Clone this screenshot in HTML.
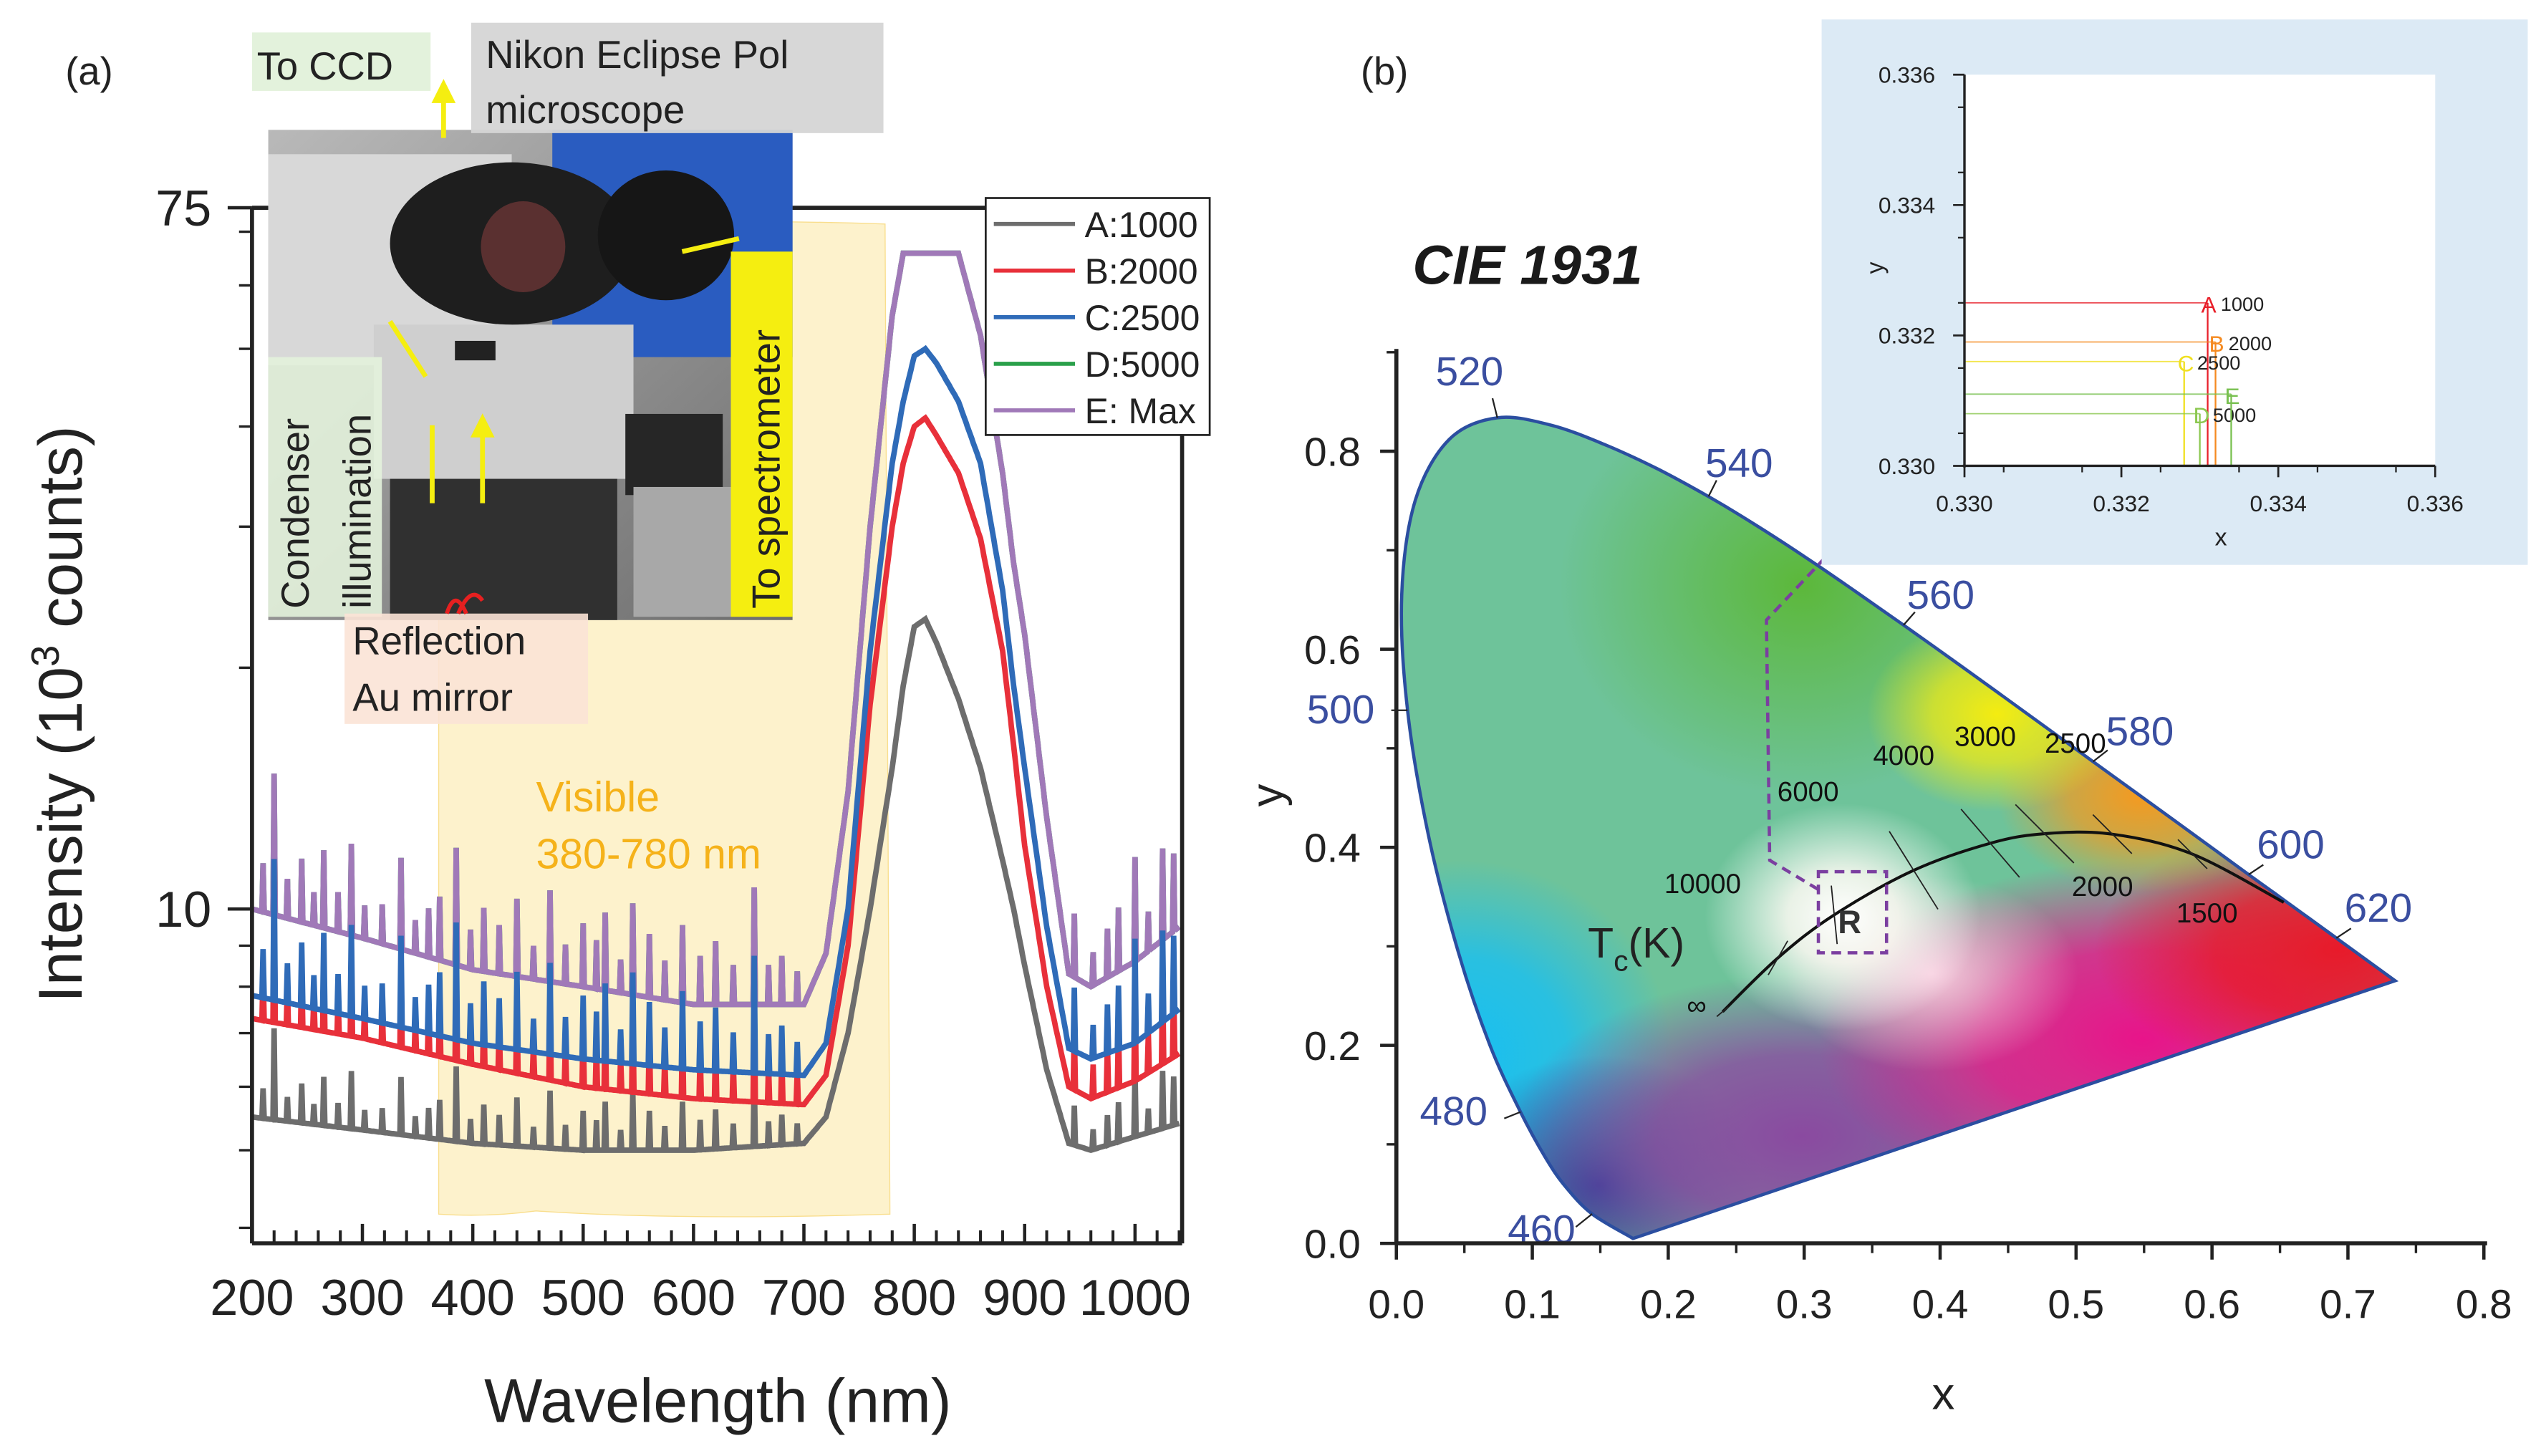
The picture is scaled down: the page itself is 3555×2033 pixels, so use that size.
<!DOCTYPE html>
<html><head><meta charset="utf-8"><style>
html,body{margin:0;padding:0;background:#fff;}
svg{display:block;font-family:"Liberation Sans",sans-serif;}
</style></head><body>
<svg id="fig" width="3555" height="2033" viewBox="0 0 1568 897" xmlns="http://www.w3.org/2000/svg">
<defs>
  <clipPath id="locusClip"><path id="locusClipPath" d=""/></clipPath>
  <radialGradient id="gBlue" cx="0.5" cy="0.5" r="0.5"><stop offset="0" stop-color="#18bff2" stop-opacity="1"/><stop offset="0.5" stop-color="#18bff2" stop-opacity="0.8"/><stop offset="1" stop-color="#18bff2" stop-opacity="0"/></radialGradient>
  <radialGradient id="gDeep" cx="0.5" cy="0.5" r="0.5"><stop offset="0" stop-color="#2c3f98" stop-opacity="1"/><stop offset="1" stop-color="#2c3f98" stop-opacity="0"/></radialGradient>
  <radialGradient id="gRed" cx="0.5" cy="0.5" r="0.5"><stop offset="0" stop-color="#e81a2a" stop-opacity="1"/><stop offset="0.5" stop-color="#e81a2a" stop-opacity="0.8"/><stop offset="1" stop-color="#e81a2a" stop-opacity="0"/></radialGradient>
  <radialGradient id="gMag" cx="0.5" cy="0.5" r="0.5"><stop offset="0" stop-color="#e8148a" stop-opacity="1"/><stop offset="0.5" stop-color="#e8148a" stop-opacity="0.8"/><stop offset="1" stop-color="#e8148a" stop-opacity="0"/></radialGradient>
  <radialGradient id="gPur" cx="0.5" cy="0.5" r="0.5"><stop offset="0" stop-color="#8a4aa0" stop-opacity="1"/><stop offset="0.5" stop-color="#8a4aa0" stop-opacity="0.8"/><stop offset="1" stop-color="#8a4aa0" stop-opacity="0"/></radialGradient>
  <radialGradient id="gYel" cx="0.5" cy="0.5" r="0.5"><stop offset="0" stop-color="#f4ec10" stop-opacity="1"/><stop offset="0.5" stop-color="#f4ec10" stop-opacity="0.7"/><stop offset="1" stop-color="#f4ec10" stop-opacity="0"/></radialGradient>
  <radialGradient id="gOra" cx="0.5" cy="0.5" r="0.5"><stop offset="0" stop-color="#f59a20" stop-opacity="1"/><stop offset="0.5" stop-color="#f59a20" stop-opacity="0.7"/><stop offset="1" stop-color="#f59a20" stop-opacity="0"/></radialGradient>
  <radialGradient id="gGreen" cx="0.5" cy="0.5" r="0.5"><stop offset="0" stop-color="#5cb83a" stop-opacity="1"/><stop offset="1" stop-color="#5cb83a" stop-opacity="0"/></radialGradient>
  <radialGradient id="gPink" cx="0.5" cy="0.5" r="0.5"><stop offset="0" stop-color="#f7c9dc" stop-opacity="1"/><stop offset="1" stop-color="#f7c9dc" stop-opacity="0"/></radialGradient>
  <radialGradient id="gWhite" cx="0.5" cy="0.5" r="0.5"><stop offset="0" stop-color="#ffffff" stop-opacity="1"/><stop offset="0.4" stop-color="#fffaf4" stop-opacity="0.85"/><stop offset="1" stop-color="#ffffff" stop-opacity="0"/></radialGradient>
  <linearGradient id="photoBg" x1="0" y1="0" x2="1" y2="1"><stop offset="0" stop-color="#b9b9b9"/><stop offset="1" stop-color="#6d6d6d"/></linearGradient>
</defs>

<g id="panelA">
  <text x="40" y="52" font-size="24" fill="#222">(a)</text>
  <path d="M270,140 Q300,136 330,140 Q420,134 545,138 L548,748 Q420,752 330,746 Q300,750 270,748 Z" fill="#fdf0c4" opacity="0.85" stroke="#f8d97a" stroke-width="0.6"/>
  <g id="seriesA"></g>
  <g id="axesA"></g>
  <text x="330" y="500" font-size="26" fill="#f5b21a">Visible</text>
  <text x="330" y="535" font-size="26" fill="#f5b21a">380-780 nm</text>
  <g>
    <rect x="165" y="80" width="323" height="302" fill="url(#photoBg)"/>
    <rect x="340" y="80" width="148" height="140" fill="#2a5cc0"/>
    <rect x="165" y="95" width="150" height="130" fill="#d8d8d8"/>
    <rect x="230" y="200" width="160" height="95" fill="#cfcfcf"/>
    <ellipse cx="315" cy="150" rx="75" ry="50" fill="#1e1e1e"/>
    <ellipse cx="322" cy="152" rx="26" ry="28" fill="#5a3030"/>
    <ellipse cx="410" cy="145" rx="42" ry="40" fill="#161616"/>
    <rect x="240" y="295" width="140" height="87" fill="#303030"/>
    <rect x="385" y="255" width="60" height="50" fill="#262626"/>
    <rect x="390" y="300" width="60" height="80" fill="#a8a8a8"/>
    <rect x="280" y="210" width="25" height="12" fill="#222"/>
  </g>
  <rect x="155" y="20" width="110" height="36" fill="#e3f2dc"/>
  <text x="158" y="49" font-size="24" fill="#222">To CCD</text>
  <rect x="290" y="14" width="254" height="68" fill="#d5d5d5" opacity="0.95"/>
  <text x="299" y="42" font-size="24" fill="#222">Nikon Eclipse Pol</text>
  <text x="299" y="76" font-size="24" fill="#222">microscope</text>
  <rect x="165" y="220" width="70" height="160" fill="#e3f2dc" opacity="0.9"/>
  <text transform="translate(190,375) rotate(-90)" font-size="24" fill="#222">Condenser</text>
  <text transform="translate(228,375) rotate(-90)" font-size="24" fill="#222">illumination</text>
  <rect x="450" y="155" width="38" height="225" fill="#f5ee10"/>
  <text transform="translate(480,375) rotate(-90)" font-size="24" fill="#222">To spectrometer</text>
  <rect x="212" y="378" width="150" height="68" fill="#fbe3d6" opacity="0.9"/>
  <text x="217" y="403" font-size="24" fill="#222">Reflection</text>
  <text x="217" y="438" font-size="24" fill="#222">Au mirror</text>
  <g stroke="#f5ee10" stroke-width="3" fill="#f5ee10">
    <line x1="273" y1="85" x2="273" y2="60"/><path d="M268,62 L273,52 L278,62 Z"/>
    <line x1="240" y1="198" x2="262" y2="232"/>
    <line x1="266" y1="262" x2="266" y2="310"/>
    <line x1="297" y1="310" x2="297" y2="265"/><path d="M292,268 L297,258 L302,268 Z"/>
    <line x1="420" y1="155" x2="455" y2="147"/>
  </g>
  <path d="M275,378 Q280,362 287,378 M282,378 Q290,360 297,370" stroke="#e62020" stroke-width="2.5" fill="none"/>
  <g>
    <rect x="607" y="122" width="138" height="146" fill="#fff" stroke="#222" stroke-width="1.2"/>
    <g id="legendItems"></g>
  </g>
  <text transform="translate(50,440) rotate(-90)" text-anchor="middle" font-size="38" fill="#222">Intensity (10<tspan dy="-14" font-size="24">3</tspan><tspan dy="14"> counts)</tspan></text>
  <text x="442" y="876" text-anchor="middle" font-size="38" fill="#222">Wavelength (nm)</text>
</g>

<g id="panelB">
  <text x="838" y="52" font-size="24" fill="#222">(b)</text>
  <text x="870" y="175" font-size="34" font-weight="bold" font-style="italic" fill="#1a1a1a">CIE 1931</text>
  <g clip-path="url(#locusClip)">
    <rect x="840" y="230" width="720" height="560" fill="#6ec39a"/>
    <ellipse cx="1110" cy="360" rx="150" ry="130" fill="url(#gGreen)"/>
    <ellipse cx="900" cy="650" rx="130" ry="120" fill="url(#gBlue)"/>
    <ellipse cx="985" cy="730" rx="100" ry="80" fill="url(#gDeep)"/>
    <ellipse cx="1110" cy="700" rx="180" ry="100" fill="url(#gPur)"/>
    <ellipse cx="1320" cy="640" rx="200" ry="110" fill="url(#gMag)"/>
    <ellipse cx="1440" cy="585" rx="150" ry="80" fill="url(#gRed)"/>
    <ellipse cx="1320" cy="490" rx="90" ry="60" fill="url(#gOra)"/>
    <ellipse cx="1230" cy="440" rx="80" ry="60" fill="url(#gYel)"/>
    <ellipse cx="1190" cy="600" rx="90" ry="60" fill="url(#gPink)"/>
    <ellipse cx="1135" cy="565" rx="85" ry="70" fill="url(#gWhite)"/>
  </g>
  <path id="locusLine" d="" fill="none" stroke="#2b4ea0" stroke-width="2"/>
  <g id="locusLabels"></g>
  <g id="planck"></g>
  <g id="axesB"></g>
  <text x="978" y="590" font-size="26" fill="#222">T<tspan dy="8" font-size="18">c</tspan><tspan dy="-8">(K)</tspan></text>
  <rect x="1120" y="537" width="42" height="50" fill="none" stroke="#7b3fa0" stroke-width="2" stroke-dasharray="6,4"/>
  <path d="M1120,548 L1090,530 L1088,382 L1135,332" fill="none" stroke="#7b3fa0" stroke-width="2" stroke-dasharray="6,4"/>
  <path d="M1143,325 L1128,330 L1138,340 Z" fill="#7b3fa0"/>
  <text x="1132" y="575" font-size="20" font-weight="bold" fill="#333">R</text>
  <g>
    <rect x="1122" y="12" width="435" height="336" fill="#dceaf5"/>
    <rect x="1210" y="46" width="290" height="241" fill="#fff"/>
    <g id="insetG"></g>
  </g>
  <text transform="translate(790,490) rotate(-90)" text-anchor="middle" font-size="28" fill="#222">y</text>
  <text x="1197" y="868" text-anchor="middle" font-size="28" fill="#222">x</text>
</g>
</svg>
<script>
// ---------- Panel A data ----------
const wavelengths = [200,300,400,500,600,700,720,740,760,780,790,800,810,820,840,860,880,890,900,920,940,960,1000,1040];
const seriesNames = ['A:1000','B:2000','C:2500','D:5000','E: Max'];
const seriesColors = ['#6d6d6d','#e8303a','#2f6bb8','#2aa04a','#a079b8'];
const intensityA = [5.5,5.3,5.1,5.0,5.0,5.1,5.5,7,10,15,19,22.5,23,21.5,18.3,15,11.5,10,8.5,6.3,5.1,5.0,5.2,5.4];
const intensityB = [7.3,6.9,6.4,6.0,5.8,5.7,6.2,9,18,30,36,40,41,39,35,29,21,16,12,8,6,5.8,6.1,6.6];
const intensityC = [7.8,7.3,6.8,6.5,6.3,6.2,6.8,10,21,36,43,49,50,48,43,36,25,19,15,9.5,6.7,6.5,6.8,7.5];
const intensityD = [10,9.2,8.4,8,7.6,7.6,8.8,14,30,55,65.8,65.8,65.8,65.8,65.8,52,35,27,22,13,8.3,8,8.6,9.5];
const intensityE = [10,9.2,8.4,8,7.6,7.6,8.8,14,30,55,65.8,65.8,65.8,65.8,65.8,52,35,27,22,13,8.3,8,8.6,9.5];
const spikeWl  = [210,220,232,245,256,265,278,290,302,318,335,348,360,370,385,398,410,424,440,455,470,484,500,512,520,534,545,560,574,590,606,620,636,655,668,680,694,945,962,975,985,1000,1012,1025,1035];
const spikeAmp = [1.15,1.5,1.12,1.2,1.1,1.25,1.12,1.3,1.1,1.12,1.3,1.1,1.15,1.2,1.4,1.12,1.2,1.15,1.25,1.1,1.3,1.12,1.2,1.15,1.25,1.1,1.3,1.2,1.12,1.25,1.15,1.2,1.12,1.4,1.12,1.15,1.1,1.2,1.1,1.15,1.2,1.35,1.12,1.3,1.25];
const xTicksA = [200,300,400,500,600,700,800,900,1000];
const yMajorA = [10,75];
const yMinorA = [4,5,6,7,8,9,20,30,40,50,60,70];

const NS='http://www.w3.org/2000/svg';
function mk(tag,attrs,parent){const e=document.createElementNS(NS,tag);for(const k in attrs)e.setAttribute(k,attrs[k]);if(parent)parent.appendChild(e);return e;}
const xA = w => 155 + (w-200)*0.68;
const yA = v => 560 - (Math.log10(v)-1)*493.7;
function interp(w,arr){
  for(let i=0;i<wavelengths.length-1;i++){
    if(w>=wavelengths[i]&&w<=wavelengths[i+1]){
      const t=(w-wavelengths[i])/(wavelengths[i+1]-wavelengths[i]);
      return Math.pow(10,Math.log10(arr[i])*(1-t)+Math.log10(arr[i+1])*t);
    }
  }
  return arr[arr.length-1];
}
const gS=document.getElementById('seriesA');
const allSeries=[intensityA,intensityB,intensityC,intensityD,intensityE];
const drawOrder=[3,4,0,1,2];
drawOrder.forEach(si=>{
  const arr=allSeries[si];
  let d='';
  for(let w=200;w<=1040;w+=1){
    let v=interp(w,arr);
    const k=spikeWl.indexOf(w);
    if(k>=0) v*= (si===0? 1+(spikeAmp[k]-1)*0.6 : spikeAmp[k]);
    d+=(d?'L':'M')+xA(w).toFixed(1)+','+yA(v).toFixed(1);
  }
  const p=mk('path',{d:d,fill:'none',stroke:seriesColors[si],'stroke-width':3.4,'stroke-linejoin':'miter','stroke-miterlimit':2},gS);
  
  
});
const gA=document.getElementById('axesA');
mk('line',{x1:155,y1:128,x2:155,y2:766,stroke:'#222','stroke-width':2.5},gA);
mk('line',{x1:155,y1:766,x2:728,y2:766,stroke:'#222','stroke-width':2.5},gA);
mk('line',{x1:728,y1:128,x2:728,y2:766,stroke:'#222','stroke-width':2.5},gA);
mk('line',{x1:155,y1:128,x2:728,y2:128,stroke:'#222','stroke-width':2.5},gA);
xTicksA.forEach(w=>{
  mk('line',{x1:xA(w),y1:766,x2:xA(w),y2:754,stroke:'#222','stroke-width':2},gA);
  const t=mk('text',{x:xA(w),y:810,'text-anchor':'middle','font-size':31,fill:'#222'},gA);t.textContent=w;
  
  
});
for(let w=220;w<=1040;w+=20){ if(w%100) mk('line',{x1:xA(w),y1:766,x2:xA(w),y2:758,stroke:'#222','stroke-width':1.8},gA); }
yMajorA.forEach(v=>{
  mk('line',{x1:140,y1:yA(v),x2:155,y2:yA(v),stroke:'#222','stroke-width':2},gA);
  const t=mk('text',{x:130,y:yA(v)+11,'text-anchor':'end','font-size':31,fill:'#222'},gA);t.textContent=v;
  
  
});
yMinorA.forEach(v=>{ mk('line',{x1:147,y1:yA(v),x2:155,y2:yA(v),stroke:'#222','stroke-width':1.5},gA); });
const gL=document.getElementById('legendItems');
seriesNames.forEach((n,i)=>{
  const y=138+i*28.7;
  mk('line',{x1:612,y1:y,x2:662,y2:y,stroke:seriesColors[i],'stroke-width':2.5},gL);
  const t=mk('text',{x:668,y:y+8,'font-size':22,fill:'#222'},gL);t.textContent=n;
  
  
});

// ---------- Panel B data ----------
const locusX = [0.1741,0.1440,0.1241,0.1096,0.0913,0.0687,0.0454,0.0235,0.0082,0.0039,0.0139,0.0389,0.0743,0.1142,0.1547,0.1929,0.2296,0.2658,0.3016,0.3373,0.3731,0.4087,0.4441,0.4788,0.5125,0.5448,0.5752,0.6029,0.6270,0.6482,0.6658,0.6915,0.7190,0.7347];
const locusY = [0.0050,0.0297,0.0578,0.0868,0.1327,0.2007,0.2950,0.4127,0.5384,0.6548,0.7502,0.8120,0.8338,0.8262,0.8059,0.7816,0.7543,0.7243,0.6923,0.6589,0.6245,0.5896,0.5547,0.5202,0.4866,0.4544,0.4242,0.3965,0.3725,0.3514,0.3340,0.3083,0.2809,0.2653];
const wlLabels = ['460','480','500','520','540','560','580','600','620'];
const wlLabelX = [0.1440,0.0913,0.0082,0.0743,0.2296,0.3731,0.5125,0.6270,0.6915];
const wlLabelY = [0.0297,0.1327,0.5384,0.8338,0.7543,0.6245,0.4866,0.3725,0.3083];
const planckX = [0.24,0.2807,0.3221,0.3805,0.4369,0.4769,0.5267,0.5857,0.6528];
const planckY = [0.234,0.2883,0.3318,0.3768,0.4041,0.4137,0.4133,0.3931,0.3444];
const planckLabels = ['∞','10000','6000','4000','3000','2500','2000','1500',''];
const xTicksB = [0,0.1,0.2,0.3,0.4,0.5,0.6,0.7,0.8];
const yTicksB = [0,0.2,0.4,0.6,0.8];
const xB = v => 860 + v*837.5;
const yB = v => 766 - v*610;

const P=locusX.map((x,i)=>[xB(x),yB(locusY[i])]);
let ld='M'+P[0][0].toFixed(1)+','+P[0][1].toFixed(1);
for(let i=0;i<P.length-1;i++){
  const p0=P[Math.max(0,i-1)],p1=P[i],p2=P[i+1],p3=P[Math.min(P.length-1,i+2)];
  const c1=[p1[0]+(p2[0]-p0[0])/6,p1[1]+(p2[1]-p0[1])/6];
  const c2=[p2[0]-(p3[0]-p1[0])/6,p2[1]-(p3[1]-p1[1])/6];
  ld+='C'+c1[0].toFixed(1)+','+c1[1].toFixed(1)+' '+c2[0].toFixed(1)+','+c2[1].toFixed(1)+' '+p2[0].toFixed(1)+','+p2[1].toFixed(1);
}
ld+='Z';
document.getElementById('locusLine').setAttribute('d',ld);
document.getElementById('locusClipPath').setAttribute('d',ld);
const gLL=document.getElementById('locusLabels');
const labOff=[[-52,18],[-62,8],[-62,8],[-38,-20],[-2,-12],[2,-10],[8,-10],[5,-10],[5,-10]];
const tickDir=[[-10,8],[-10,4],[-10,0],[-3,-12],[5,-10],[7,-8],[9,-7],[9,-6],[9,-6]];
wlLabels.forEach((l,i)=>{
  const px=xB(wlLabelX[i]), py=yB(wlLabelY[i]);
  mk('line',{x1:px,y1:py,x2:px+tickDir[i][0],y2:py+tickDir[i][1],stroke:'#222','stroke-width':1},gLL);
  const t=mk('text',{x:px+labOff[i][0],y:py+labOff[i][1],'font-size':25,fill:'#3a4ea0'},gLL);
  t.textContent=l;
  
  
});
const gP=document.getElementById('planck');
const PP=planckX.map((x,i)=>[xB(x),yB(planckY[i])]);
let pd='M'+PP[0][0].toFixed(1)+','+PP[0][1].toFixed(1);
for(let i=0;i<PP.length-1;i++){
  const p0=PP[Math.max(0,i-1)],p1=PP[i],p2=PP[i+1],p3=PP[Math.min(PP.length-1,i+2)];
  pd+='C'+(p1[0]+(p2[0]-p0[0])/6).toFixed(1)+','+(p1[1]+(p2[1]-p0[1])/6).toFixed(1)+' '+(p2[0]-(p3[0]-p1[0])/6).toFixed(1)+','+(p2[1]-(p3[1]-p1[1])/6).toFixed(1)+' '+p2[0].toFixed(1)+','+p2[1].toFixed(1);
}
mk('path',{d:pd,fill:'none',stroke:'#111','stroke-width':1.8},gP);
const isoLen=[[-12,10],[-20,35],[6,60],[-50,-80],[-60,-70],[-60,-60],[-40,-40],[-30,-30],[0,0]];
const plOff=[[-22,2],[-70,-40],[-35,-70],[-25,-65],[-22,-60],[0,-50],[-25,38],[-10,42],[0,0]];
planckLabels.forEach((l,i)=>{
  if(!l) return;
  const px=xB(planckX[i]), py=yB(planckY[i]);
  mk('line',{x1:px-isoLen[i][0]*0.3,y1:py-isoLen[i][1]*0.3,x2:px+isoLen[i][0]*0.3,y2:py+isoLen[i][1]*0.3,stroke:'#222','stroke-width':0.8},gP);
  const t=mk('text',{x:px+plOff[i][0],y:py+plOff[i][1],'font-size':17,fill:'#111'},gP);
  t.textContent=l;
  
  
});
const gB=document.getElementById('axesB');
mk('line',{x1:860,y1:215,x2:860,y2:767,stroke:'#222','stroke-width':2.5},gB);
mk('line',{x1:859,y1:766,x2:1532,y2:766,stroke:'#222','stroke-width':2.5},gB);
xTicksB.forEach((v,i)=>{
  mk('line',{x1:xB(v),y1:766,x2:xB(v),y2:776,stroke:'#222','stroke-width':2},gB);
  if(i<xTicksB.length-1) mk('line',{x1:xB(v)+41.9,y1:766,x2:xB(v)+41.9,y2:772,stroke:'#222','stroke-width':1.5},gB);
  const t=mk('text',{x:xB(v),y:812,'text-anchor':'middle','font-size':25,fill:'#222'},gB);t.textContent=v.toFixed(1);
  
  
});
yTicksB.forEach(v=>{
  mk('line',{x1:850,y1:yB(v),x2:860,y2:yB(v),stroke:'#222','stroke-width':2},gB);
  mk('line',{x1:854,y1:yB(v+0.1),x2:860,y2:yB(v+0.1),stroke:'#222','stroke-width':1.5},gB);
  const t=mk('text',{x:838,y:yB(v)+9,'text-anchor':'end','font-size':25,fill:'#222'},gB);t.textContent=v.toFixed(1);
  
  
});
// inset
const insetNames=['A','B','C','D','E'];
const insetX=[0.3331,0.3332,0.3328,0.3330,0.3334];
const insetY=[0.3325,0.3319,0.3316,0.3308,0.3311];
const insetColors=['#e8202a','#f58a20','#f0e020','#8cc850','#78c050'];
const insetCCT=['1000','2000','2500','5000',''];
const insetTicks=[0.330,0.332,0.334,0.336];
const xI=v=>1210+(v-0.330)/0.006*290;
const yI=v=>287-(v-0.330)/0.006*241;
const gI=document.getElementById('insetG');
insetNames.forEach((n,i)=>{
  const px=xI(insetX[i]),py=yI(insetY[i]);
  mk('line',{x1:1210,y1:py,x2:px,y2:py,stroke:insetColors[i],'stroke-width':0.8,opacity:0.8},gI);
  mk('line',{x1:px,y1:py,x2:px,y2:287,stroke:insetColors[i],'stroke-width':1},gI);
  const t=mk('text',{x:px-4,y:py+6,'font-size':14,fill:insetColors[i]},gI);t.textContent=n;
  
  
  if(insetCCT[i]){const c=mk('text',{x:px+8,y:py+5,'font-size':12,fill:'#222'},gI);c.textContent=insetCCT[i];
  
  }
});
mk('line',{x1:1210,y1:46,x2:1210,y2:288,stroke:'#222','stroke-width':1.5},gI);
mk('line',{x1:1209,y1:287,x2:1500,y2:287,stroke:'#222','stroke-width':1.5},gI);
insetTicks.forEach(v=>{
  mk('line',{x1:1203,y1:yI(v),x2:1210,y2:yI(v),stroke:'#222','stroke-width':1.2},gI);
  mk('line',{x1:xI(v),y1:287,x2:xI(v),y2:294,stroke:'#222','stroke-width':1.2},gI);
  const t=mk('text',{x:1192,y:yI(v)+5,'text-anchor':'end','font-size':14,fill:'#222'},gI);t.textContent=v.toFixed(3);
  
  
  const u=mk('text',{x:xI(v),y:315,'text-anchor':'middle','font-size':14,fill:'#222'},gI);u.textContent=v.toFixed(3);
  
  
});
for(let k=1;k<12;k+=2){const v=0.330+k*0.0005; mk('line',{x1:1206,y1:yI(v),x2:1210,y2:yI(v),stroke:'#222','stroke-width':1},gI); mk('line',{x1:xI(v),y1:287,x2:xI(v),y2:291,stroke:'#222','stroke-width':1},gI);}
const ix=mk('text',{x:1368,y:336,'text-anchor':'middle','font-size':15,fill:'#222'},gI);ix.textContent='x';


const iy=mk('text',{x:1155,y:170,'text-anchor':'middle','font-size':15,fill:'#222',transform:'rotate(-90 1155 165)'},gI);iy.textContent='y';


</script>
</body></html>
